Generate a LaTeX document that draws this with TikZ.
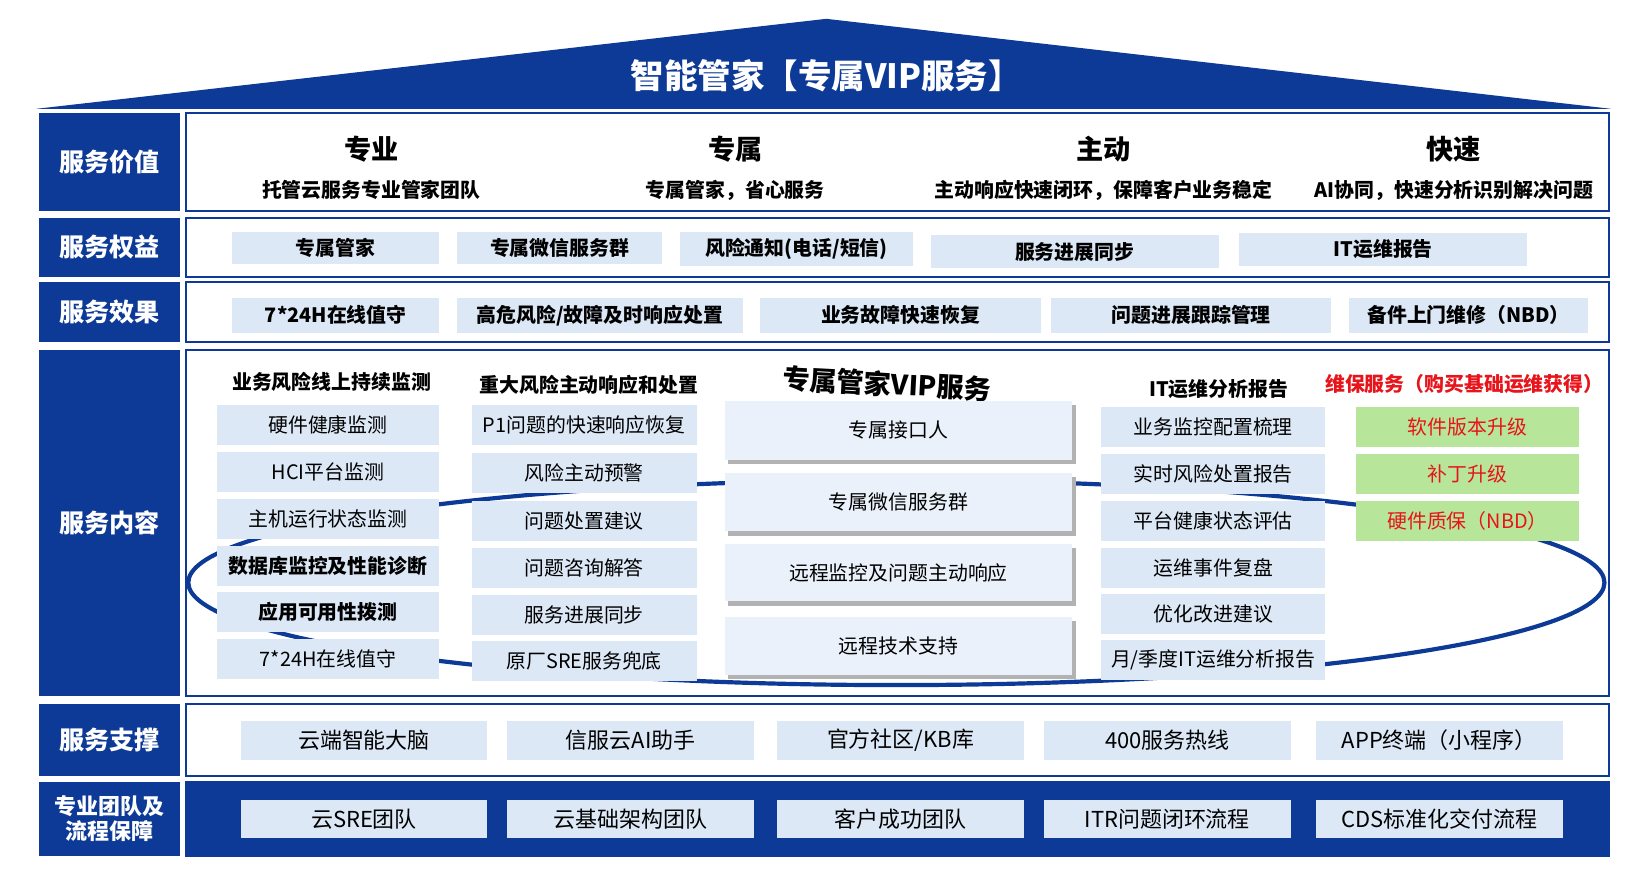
\documentclass[tikz,border=0pt]{standalone}
\usepackage{fontspec}
\setmainfont{Noto Sans CJK SC}
\definecolor{dk}{HTML}{0D3A96}
\definecolor{lb}{HTML}{DCE8F6}
\definecolor{gr}{HTML}{B7E59A}
\definecolor{rd}{HTML}{E8141B}
\begin{document}
\begin{tikzpicture}[x=0.5pt,y=-0.5pt,
 lab/.style={fill=dk,text=white,font=\bfseries\fontsize{12}{14}\selectfont,align=center,inner sep=0},
 pan/.style={draw=dk,line width=1pt,fill=white},
 bx/.style={fill=lb,inner sep=0,font=\fontsize{9.5}{11}\selectfont},
 bbx/.style={fill=lb,inner sep=0,font=\bfseries\fontsize{9.5}{11}\selectfont},
 vip/.style={fill=lb!60,inner sep=0,font=\fontsize{9.5}{11}\selectfont},
 gbx/.style={fill=gr,inner sep=0,text=rd,font=\fontsize{9.5}{11}\selectfont},
 hd/.style={font=\bfseries\fontsize{9.5}{11}\selectfont,inner sep=0}]
\useasboundingbox (0,0) rectangle (1568,836);
\fill[white] (0,0) rectangle (1568,836);
% roof
\fill[dk] (35,104) -- (790,18) -- (1540,104) -- cycle;
\node[text=white,font=\bfseries\fontsize{16}{18}\selectfont] (title) at (790,72) {智能管家【专属VIP服务】};
% left labels
\node[lab,minimum width=67.5pt,minimum height=47pt] (l1) at (104.5,155) {服务价值};
\node[lab,minimum width=67.5pt,minimum height=28.5pt] (l2) at (104.5,236.5) {服务权益};
\node[lab,minimum width=67.5pt,minimum height=28.5pt] (l3) at (104.5,298.5) {服务效果};
\node[lab,minimum width=67.5pt,minimum height=165pt] (l4) at (104.5,500) {服务内容};
\node[lab,minimum width=67.5pt,minimum height=34.5pt] (l5) at (104.5,707.5) {服务支撑};
\node[lab,minimum width=67.5pt,minimum height=35pt,font=\bfseries\fontsize{10.5}{12}\selectfont] (l6) at (104.5,783) {专业团队及\\流程保障};
% panels
\draw[pan] (178,108) rectangle (1538,202);
\draw[pan] (178,208) rectangle (1538,265);
\draw[pan] (178,270) rectangle (1538,327);
\draw[pan] (178,335) rectangle (1538,665);
\draw[pan] (178,673) rectangle (1538,742);
\draw[pan,fill=dk] (178,748) rectangle (1538,818);
% row1
\foreach \x/\t/\s [count=\i] in {355/专业/托管云服务专业管家团队,703/专属/专属管家，省心服务,1055/主动/主动响应快速闭环，保障客户业务稳定,1390/快速/AI协同，快速分析识别解决问题}{
 \node[font=\bfseries\fontsize{13}{15}\selectfont] (v\i) at (\x,143) {\t};
 \node[font=\bfseries\fontsize{9.5}{11}\selectfont] (vs\i) at (\x,182) {\s};}
% row2
\foreach \a/\b/\ya/\yb/\t [count=\i] in {222/420/222/252/专属管家,437/633/222/252/专属微信服务群,650/873/222/254/{风险通知(电话/短信)},890/1165/225/256/服务进展同步,1185/1460/223/254/IT运维报告}{
 \node[bbx,minimum width={(\b-\a)*0.5pt},minimum height={(\yb-\ya)*0.5pt}] (q\i) at ({(\a+\b)/2},{(\ya+\yb)/2}) {\t};}
% row3
\foreach \a/\b/\t [count=\i] in {222/420/7*24H在线值守,437/710/{高危风险/故障及时响应处置},727/995/业务故障快速恢复,1005/1273/问题进展跟踪管理,1290/1518/备件上门维修（NBD）}{
 \node[bbx,minimum width={(\b-\a)*0.5pt},minimum height=16.5pt] (e\i) at ({(\a+\b)/2},301.5) {\t};}
% ellipse
\draw[dk,line width=2pt] (857,557) ellipse [x radius=677, y radius=98];
% row4 headers
\node[hd] (h1) at (317,365) {业务风险线上持续监测};
\node[hd] (h2) at (563,368) {重大风险主动响应和处置};
\node[font=\bfseries\fontsize{13}{15}\selectfont,inner sep=0,rotate=-3] (h3) at (848,367) {专属管家VIP服务};
\node[hd] (h4) at (1165,372) {IT运维分析报告};
\node[hd,text=rd] (h5) at (1400,367) {维保服务（购买基础运维获得）};
% col1
\foreach \y/\t/\st [count=\i] in {406/硬件健康监测/bx,451/HCI平台监测/bx,496/主机运行状态监测/bx,541/数据库监控及性能诊断/bbx,585/应用可用性拨测/bbx,630/7*24H在线值守/bx}{
 \node[\st,minimum width=106.5pt,minimum height=19pt] (c1\i) at (313.5,\y) {\t};}
\foreach \y/\t [count=\i] in {406/P1问题的快速响应恢复,452/风险主动预警,498/问题处置建议,543/问题咨询解答,588/服务进展同步,632/原厂SRE服务兜底}{
 \node[bx,minimum width=107.5pt,minimum height=19pt] (c2\i) at (558.5,\y) {\t};}
\foreach \ya/\yb/\t [count=\i] in {383/440/专属接口人,452/508/专属微信服务群,520/575/远程监控及问题主动响应,590/645/远程技术支持}{
 \fill[black!30] (696,\ya+4) rectangle (1029,\yb+4);
 \node[vip,minimum width=166pt,minimum height={(\yb-\ya)*0.5pt}] (c3\i) at (859,{(\ya+\yb)/2}) {\t};}
\foreach \y/\t [count=\i] in {408/业务监控配置梳理,453/实时风险处置报告,498/平台健康状态评估,543/运维事件复盘,587/优化改进建议,631/{月/季度IT运维分析报告}}{
 \node[bx,minimum width=107pt,minimum height=19pt] (c4\i) at (1160,\y) {\t};}
\foreach \y/\t [count=\i] in {408/软件版本升级,453/补丁升级,498/硬件质保（NBD）}{
 \node[gbx,minimum width=107pt,minimum height=19pt] (c5\i) at (1403,\y) {\t};}
% row5
\foreach \a/\t [count=\i] in {230/云端智能大脑,485/信服云AI助手,743/{官方社区/KB库},998/400服务热线,1258/APP终端（小程序）}{
 \node[bx,font=\fontsize{10.5}{12}\selectfont,minimum width=118pt,minimum height=18.5pt] (s\i) at (\a+118,708) {\t};}
% row6
\foreach \a/\t [count=\i] in {230/云SRE团队,485/云基础架构团队,743/客户成功团队,998/ITR问题闭环流程,1258/CDS标准化交付流程}{
 \node[bx,font=\fontsize{10.5}{12}\selectfont,minimum width=118pt,minimum height=18pt] (t\i) at (\a+118,783) {\t};}
\end{tikzpicture}
\end{document}
